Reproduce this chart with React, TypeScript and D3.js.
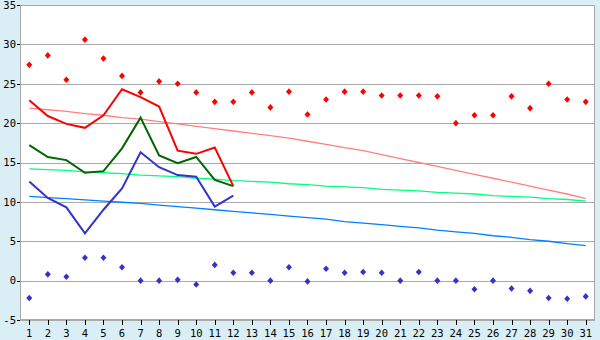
import React from "react";
import * as d3 from "d3";

const days: number[] = Array.from({ length: 31 }, (_, i) => i + 1);
const yTicks: number[] = [-5, 0, 5, 10, 15, 20, 25, 30, 35];

const maxPoints: number[] = [27.4, 28.6, 25.5, 30.6, 28.2, 26.0, 23.9, 25.3, 25.0, 23.9, 22.7, 22.7, 23.9, 22.0, 24.0, 21.1, 23.0, 24.0, 24.0, 23.5, 23.5, 23.5, 23.4, 20.0, 21.0, 21.0, 23.4, 21.9, 25.0, 23.0, 22.7];
const minPoints: number[] = [-2.2, 0.8, 0.5, 2.9, 2.9, 1.7, 0.0, 0.0, 0.1, -0.5, 2.0, 1.0, 1.0, 0.0, 1.7, -0.1, 1.5, 1.0, 1.1, 1.0, 0.0, 1.1, 0.0, 0.0, -1.1, 0.0, -1.0, -1.3, -2.2, -2.3, -2.0];

const maxLine: number[] = [22.9, 20.9, 19.9, 19.4, 21.0, 24.3, 23.3, 22.1, 16.5, 16.1, 16.9, 12.0];
const avgLine: number[] = [17.2, 15.7, 15.3, 13.7, 13.9, 16.8, 20.7, 15.9, 14.9, 15.7, 12.8, 12.0];
const minLine: number[] = [12.6, 10.5, 9.3, 6.0, 9.0, 11.7, 16.3, 14.4, 13.4, 13.2, 9.4, 10.8];

const normalMax: number[] = [21.9, 21.7, 21.5, 21.2, 21.0, 20.7, 20.5, 20.2, 19.9, 19.6, 19.3, 19.0, 18.7, 18.4, 18.1, 17.7, 17.3, 16.9, 16.5, 16.0, 15.5, 15.0, 14.5, 14.0, 13.5, 13.0, 12.5, 12.0, 11.5, 11.0, 10.4];
const normalAvg: number[] = [14.2, 14.1, 14.0, 13.8, 13.7, 13.6, 13.4, 13.3, 13.2, 13.0, 12.9, 12.7, 12.6, 12.5, 12.3, 12.2, 12.0, 11.9, 11.8, 11.6, 11.5, 11.4, 11.2, 11.1, 11.0, 10.8, 10.7, 10.6, 10.4, 10.3, 10.1];
const normalMin: number[] = [10.7, 10.55, 10.4, 10.25, 10.1, 9.95, 9.8, 9.6, 9.4, 9.2, 9.0, 8.8, 8.6, 8.4, 8.2, 8.0, 7.8, 7.5, 7.3, 7.1, 6.9, 6.7, 6.4, 6.2, 6.0, 5.7, 5.5, 5.2, 5.0, 4.7, 4.45];

const W = 600;
const H = 340;
const left = 20, right = 595, top = 5, bottom = 320;

export default function App() {
  const x = d3.scaleBand<number>().domain(days).range([left, right]);
  const cx = (d: number) => (x(d) as number) + x.bandwidth() / 2;
  const y = d3.scaleLinear().domain([-5, 35]).range([bottom, top]);

  const line = d3.line<number>().x((_, i) => cx(days[i])).y((v) => y(v));

  const diamond = (px: number, py: number) =>
    `M${px},${py - 3.3}L${px + 3},${py}L${px},${py + 3.3}L${px - 3},${py}Z`;

  const font = "'DejaVu Sans Mono', monospace";

  return (
    <svg width={W} height={H} style={{ position: "fixed", left: 0, top: 0, display: "block" }}>
      <rect x={0} y={0} width={W} height={H} fill="#d9eef5" />
      <rect x={left} y={top} width={right - left} height={bottom - top} fill="#ffffff" />
      {yTicks.map((t) => (
        <g key={t}>
          <line x1={left} x2={right} y1={Math.round(y(t)) + 0.5} y2={Math.round(y(t)) + 0.5} stroke="#aaaaaa" strokeWidth={1} shapeRendering="crispEdges" />
          <line x1={left - 3} x2={left} y1={Math.round(y(t)) + 0.5} y2={Math.round(y(t)) + 0.5} stroke="#000" strokeWidth={1} shapeRendering="crispEdges" />
          <text x={16} y={y(t)} dy="0.36em" textAnchor="end" fontFamily={font} fontSize={10.5} fill="#000">{t}</text>
        </g>
      ))}
      <rect x={left + 0.5} y={top + 0.5} width={right - left - 1} height={bottom - top - 1} fill="none" stroke="#aaaaaa" shapeRendering="crispEdges" />
      {days.map((d) => (
        <g key={d}>
          <line x1={Math.round(cx(d)) + 0.5} x2={Math.round(cx(d)) + 0.5} y1={bottom} y2={bottom + 5} stroke="#000" shapeRendering="crispEdges" />
          <text x={cx(d)} y={336.5} textAnchor="middle" fontFamily={font} fontSize={10.5} fill="#000">{d}</text>
        </g>
      ))}
      <path d={line(normalMin) as string} fill="none" stroke="#0080ff" strokeWidth={1.3} />
      <path d={line(normalAvg) as string} fill="none" stroke="#00ff80" strokeWidth={1.3} />
      <path d={line(normalMax) as string} fill="none" stroke="#ff8080" strokeWidth={1.3} />
      <path d={line(minLine) as string} fill="none" stroke="#3333cc" strokeWidth={2} />
      <path d={line(avgLine) as string} fill="none" stroke="#006600" strokeWidth={2} />
      <path d={line(maxLine) as string} fill="none" stroke="#ff0000" strokeWidth={2} />
      {maxPoints.map((v, i) => (
        <path key={"mx" + i} d={diamond(cx(days[i]), y(v))} fill="#ff0000" />
      ))}
      {minPoints.map((v, i) => (
        <path key={"mn" + i} d={diamond(cx(days[i]), y(v))} fill="#3333cc" />
      ))}
    </svg>
  );
}
